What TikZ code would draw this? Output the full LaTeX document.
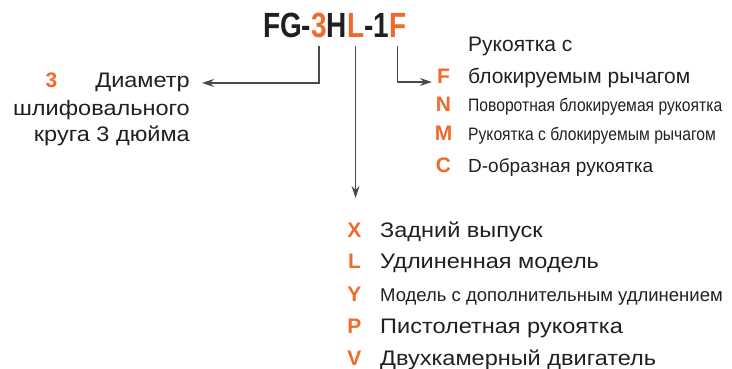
\documentclass[tikz,border=0pt]{standalone}
\usepackage{fontspec}
\setmainfont{Liberation Sans}
\newfontfamily\narrowfont[FakeStretch=0.87]{Liberation Sans}
\newfontfamily\widefont[FakeStretch=1.12]{Liberation Sans}
\newfontfamily\titlefont[FakeStretch=0.8]{Liberation Sans}
\usetikzlibrary{positioning,arrows.meta}
\definecolor{codeorange}{HTML}{F26A2B}
\definecolor{textgray}{HTML}{231F20}
\definecolor{linegray}{HTML}{4A4A4A}
\tikzset{
  part/.style={inner sep=0pt,outer sep=0pt,anchor=base west,font=\titlefont\bfseries\fontsize{35}{35}\selectfont,text=textgray},
  optpart/.style={part,text=codeorange},
  key/.style={inner sep=0pt,anchor=base,font=\bfseries\fontsize{21}{21}\selectfont,text=codeorange},
  desc/.style={inner sep=0pt,anchor=base west,font=\fontsize{21}{21}\selectfont,text=textgray},
  widedesc/.style={desc,font=\widefont\fontsize{21}{21}\selectfont},
  smalldesc/.style={desc,font=\fontsize{19}{19}\selectfont},
  narrowdesc/.style={desc,font=\narrowfont\fontsize{18}{18}\selectfont},
  arrow/.style={draw=linegray,line width=1.2pt,-{Stealth[length=12pt,width=8pt]}}
}
\begin{document}
\begin{tikzpicture}[x=1pt,y=-1pt]
\useasboundingbox (0,0) rectangle (732,369);
% model code
\node[part] (fg) at (263,38) {FG-};
\node[optpart] (d3) at (fg.base east) {3};
\node[part] (h) at (d3.base east) {H};
\node[optpart] (ln) at (h.base east) {L};
\node[part] (one) at (ln.base east) {-1};
\node[optpart] (hd) at (one.base east) {F};
% wheel diameter
\node[key] (k3) at (51.5,88) {3};
\node[widedesc,anchor=base east] (dia) at (190,88) {Диаметр};
\node[widedesc,anchor=base east] (dia2) at (190,116) {шлифовального};
\node[widedesc,anchor=base east] (dia3) at (190,142) {круга 3 дюйма};
% handle
\node[desc] (hd0) at (468,52) {Рукоятка с};
\node[key] (kf) at (443.5,84) {F};
\node[desc] (hdf) at (468,84) {блокируемым рычагом};
\node[key] (kn) at (443.5,112) {N};
\node[narrowdesc] (hdn) at (468,112) {Поворотная блокируемая рукоятка};
\node[key] (km) at (443.5,141) {M};
\node[narrowdesc] (hdm) at (468,141) {Рукоятка с блокируемым рычагом};
\node[key] (kc) at (443.5,172) {C};
\node[smalldesc] (hdc) at (468,172) {D-образная рукоятка};
% length
\node[key] (kx) at (354.5,237) {X};
\node[widedesc] (lx) at (380,237) {Задний выпуск};
\node[key] (kl) at (354.5,268) {L};
\node[widedesc] (ll) at (380,268) {Удлиненная модель};
\node[key] (ky) at (354.5,301) {Y};
\node[desc,font=\fontsize{18.5}{18.5}\selectfont] (ly) at (380,301) {Модель с дополнительным удлинением};
\node[key] (kp) at (354.5,333) {P};
\node[widedesc] (lp) at (380,333) {Пистолетная рукоятка};
\node[key] (kv) at (354.5,365) {V};
\node[widedesc] (lv) at (380,365) {Двухкамерный двигатель};
% connectors
\draw[arrow] ([yshift=-8pt]d3.south) |- ([xshift=12pt]dia.east);
\draw[arrow] ([yshift=-8pt]ln.south) -- ([yshift=-160pt]ln.south);
\draw[arrow] ([yshift=-8pt]hd.south) |- ([xshift=-5pt,yshift=2pt]kf.base west);
\end{tikzpicture}
\end{document}
